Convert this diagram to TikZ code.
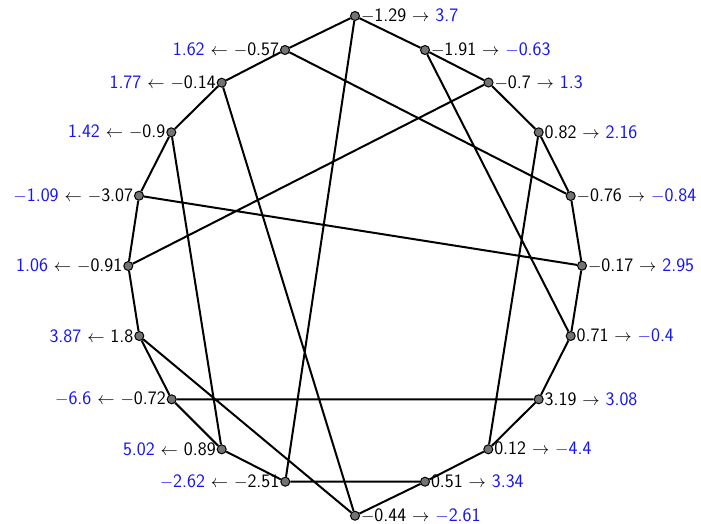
\documentclass[tikz,border=0pt]{standalone}
\usepackage{xcolor}
\definecolor{numblue}{RGB}{20,20,245}
\newcommand{\labR}[2]{#1 $\rightarrow$ \textcolor{numblue}{#2}}
\newcommand{\labL}[2]{\textcolor{numblue}{#1} $\leftarrow$ #2}
\begin{document}
\begin{tikzpicture}[x=1pt,y=-1pt,
  vtx/.style={circle,draw=black,fill=black!55,line width=1pt,minimum size=9pt,inner sep=0pt},
  rl/.style={label={[font=\sffamily\fontsize{19}{22}\selectfont,inner sep=0.5pt,label distance=0.3pt]east:#1}},
  ll/.style={label={[font=\sffamily\fontsize{19}{22}\selectfont,inner sep=0.5pt,label distance=0.3pt]west:#1}},
  edge/.style={line width=2pt,black}]
\useasboundingbox (0,0) rectangle (701,523);
% right side
\node[vtx,rl={\labR{$-$1.29}{3.7}}] (n1) at (355,16) {};
\node[vtx,rl={\labR{$-$1.91}{$-$0.63}}] (n2) at (425,50) {};
\node[vtx,rl={\labR{$-$0.7}{1.3}}] (n3) at (488.5,82.5) {};
\node[vtx,rl={\labR{0.82}{2.16}}] (n4) at (538.7,132.3) {};
\node[vtx,rl={\labR{$-$0.76}{$-$0.84}}] (n5) at (570.7,196) {};
\node[vtx,rl={\labR{$-$0.17}{2.95}}] (n6) at (582,265.7) {};
\node[vtx,rl={\labR{0.71}{$-$0.4}}] (n7) at (570.7,336) {};
\node[vtx,rl={\labR{3.19}{3.08}}] (n8) at (538.7,399.3) {};
\node[vtx,rl={\labR{0.12}{$-$4.4}}] (n9) at (488.3,449.3) {};
\node[vtx,rl={\labR{0.51}{3.34}}] (n10) at (425,481.7) {};
\node[vtx,rl={\labR{$-$0.44}{$-$2.61}}] (n11) at (355,515.7) {};
% left side
\node[vtx,ll={\labL{$-$2.62}{$-$2.51}}] (n12) at (285.3,481.7) {};
\node[vtx,ll={\labL{5.02}{0.89}}] (n13) at (221.7,449.3) {};
\node[vtx,ll={\labL{$-$6.6}{$-$0.72}}] (n14) at (171.7,399.3) {};
\node[vtx,ll={\labL{3.87}{1.8}}] (n15) at (139.3,336) {};
\node[vtx,ll={\labL{1.06}{$-$0.91}}] (n16) at (128.3,266) {};
\node[vtx,ll={\labL{$-$1.09}{$-$3.07}}] (n17) at (139,195.7) {};
\node[vtx,ll={\labL{1.42}{$-$0.9}}] (n18) at (171.3,132.3) {};
\node[vtx,ll={\labL{1.77}{$-$0.14}}] (n19) at (221.7,82.7) {};
\node[vtx,ll={\labL{1.62}{$-$0.57}}] (n20) at (285,50) {};
% outer cycle
\draw[edge] (n1)--(n2) (n2)--(n3) (n3)--(n4) (n4)--(n5) (n5)--(n6) (n6)--(n7) (n7)--(n8) (n8)--(n9) (n9)--(n10) (n10)--(n11);
\draw[edge] (n12)--(n13) (n13)--(n14) (n14)--(n15) (n15)--(n16) (n16)--(n17) (n17)--(n18) (n18)--(n19) (n19)--(n20) (n20)--(n1);
% chords
\draw[edge] (n1)--(n12) (n2)--(n7) (n3)--(n16) (n4)--(n9) (n20)--(n5) (n19)--(n11) (n18)--(n13) (n17)--(n6) (n14)--(n8) (n15)--(n11) (n12)--(n10);
\end{tikzpicture}
\end{document}
